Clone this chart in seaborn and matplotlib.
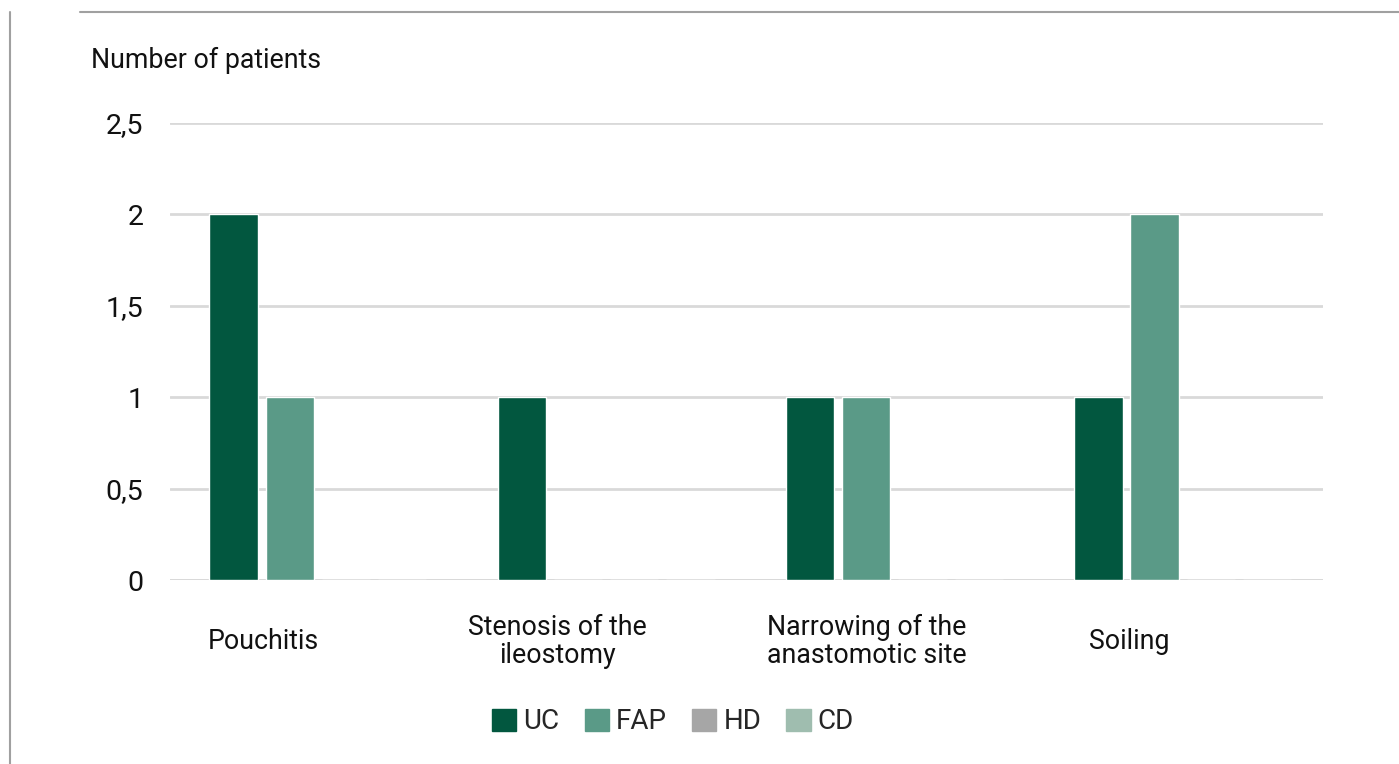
import pandas as pd
import matplotlib.pyplot as plt
import seaborn as sns
from matplotlib.lines import Line2D

categories = ["Pouchitis", "Stenosis of the\nileostomy", "Narrowing of the\nanastomotic site", "Soiling"]
series = ["UC", "FAP", "HD", "CD"]
uc = [2, 1, 1, 1]
fap = [1, 0, 1, 2]
hd = [0, 0, 0, 0]
cd = [0, 0, 0, 0]
colors = ["#02573F", "#5A9A87", "#A6A6A6", "#9FBDAF"]
label_shift = [-0.188, -0.168, -0.096, -0.184]

rows = []
for name, vals in zip(series, [uc, fap, hd, cd]):
    for cat, v in zip(categories, vals):
        rows.append({"category": cat, "series": name, "value": v})
df = pd.DataFrame(rows)

sns.set_style("white")
plt.rcParams["font.family"] = ["Roboto", "DejaVu Sans"]

fig = plt.figure(figsize=(13.99, 7.64), dpi=100)
ax = fig.add_axes([0.1215, 0.2408, 0.8242, 0.5982])

sns.barplot(data=df, x="category", y="value", hue="series", palette=colors,
            width=0.78, gap=0.14, ax=ax, legend=False, saturation=1)

ax.set_ylim(0, 2.5)
ax.set_xlim(-0.513, 3.487)
ax.set_yticks([0, 0.5, 1, 1.5, 2, 2.5])
ax.set_yticklabels(["0", "0,5", "1", "1,5", "2", "2,5"], fontsize=20.5, color="#111111")
ax.yaxis.grid(True, color="#D9D9D9", linewidth=2)
ax.set_axisbelow(True)
ax.axhline(0, color="#D9D9D9", linewidth=2, zorder=0)
for s in ax.spines.values():
    s.set_visible(False)

ax.set_xticks([i + d for i, d in enumerate(label_shift)])
ax.set_xticklabels(categories, fontsize=19.3, color="#111111", va="center", multialignment="center",
                   linespacing=1.05)
ax.tick_params(axis="x", length=0, pad=44)
ax.tick_params(axis="y", length=0, pad=19)
ax.set_xlabel("")
ax.set_ylabel("")

fig.text(0.065, 0.921, "Number of patients", fontsize=19.3, color="#111111", va="center", ha="left")

handles = [plt.Rectangle((0, 0), 1, 1, color=c) for c in colors]
fig.legend(handles, series, loc="center", bbox_to_anchor=(0.481, 0.055), ncol=4, frameon=False,
           fontsize=20, handlelength=0.88, handleheight=0.88, handletextpad=0.25, columnspacing=0.9)

# outer frame lines
fig.add_artist(Line2D([0.0072, 0.0072], [0, 0.984], color="#A0A0A0", linewidth=1.5))
fig.add_artist(Line2D([0.057, 1.0], [0.984, 0.984], color="#A0A0A0", linewidth=1.5))

fig.savefig("out.png", dpi=100)
